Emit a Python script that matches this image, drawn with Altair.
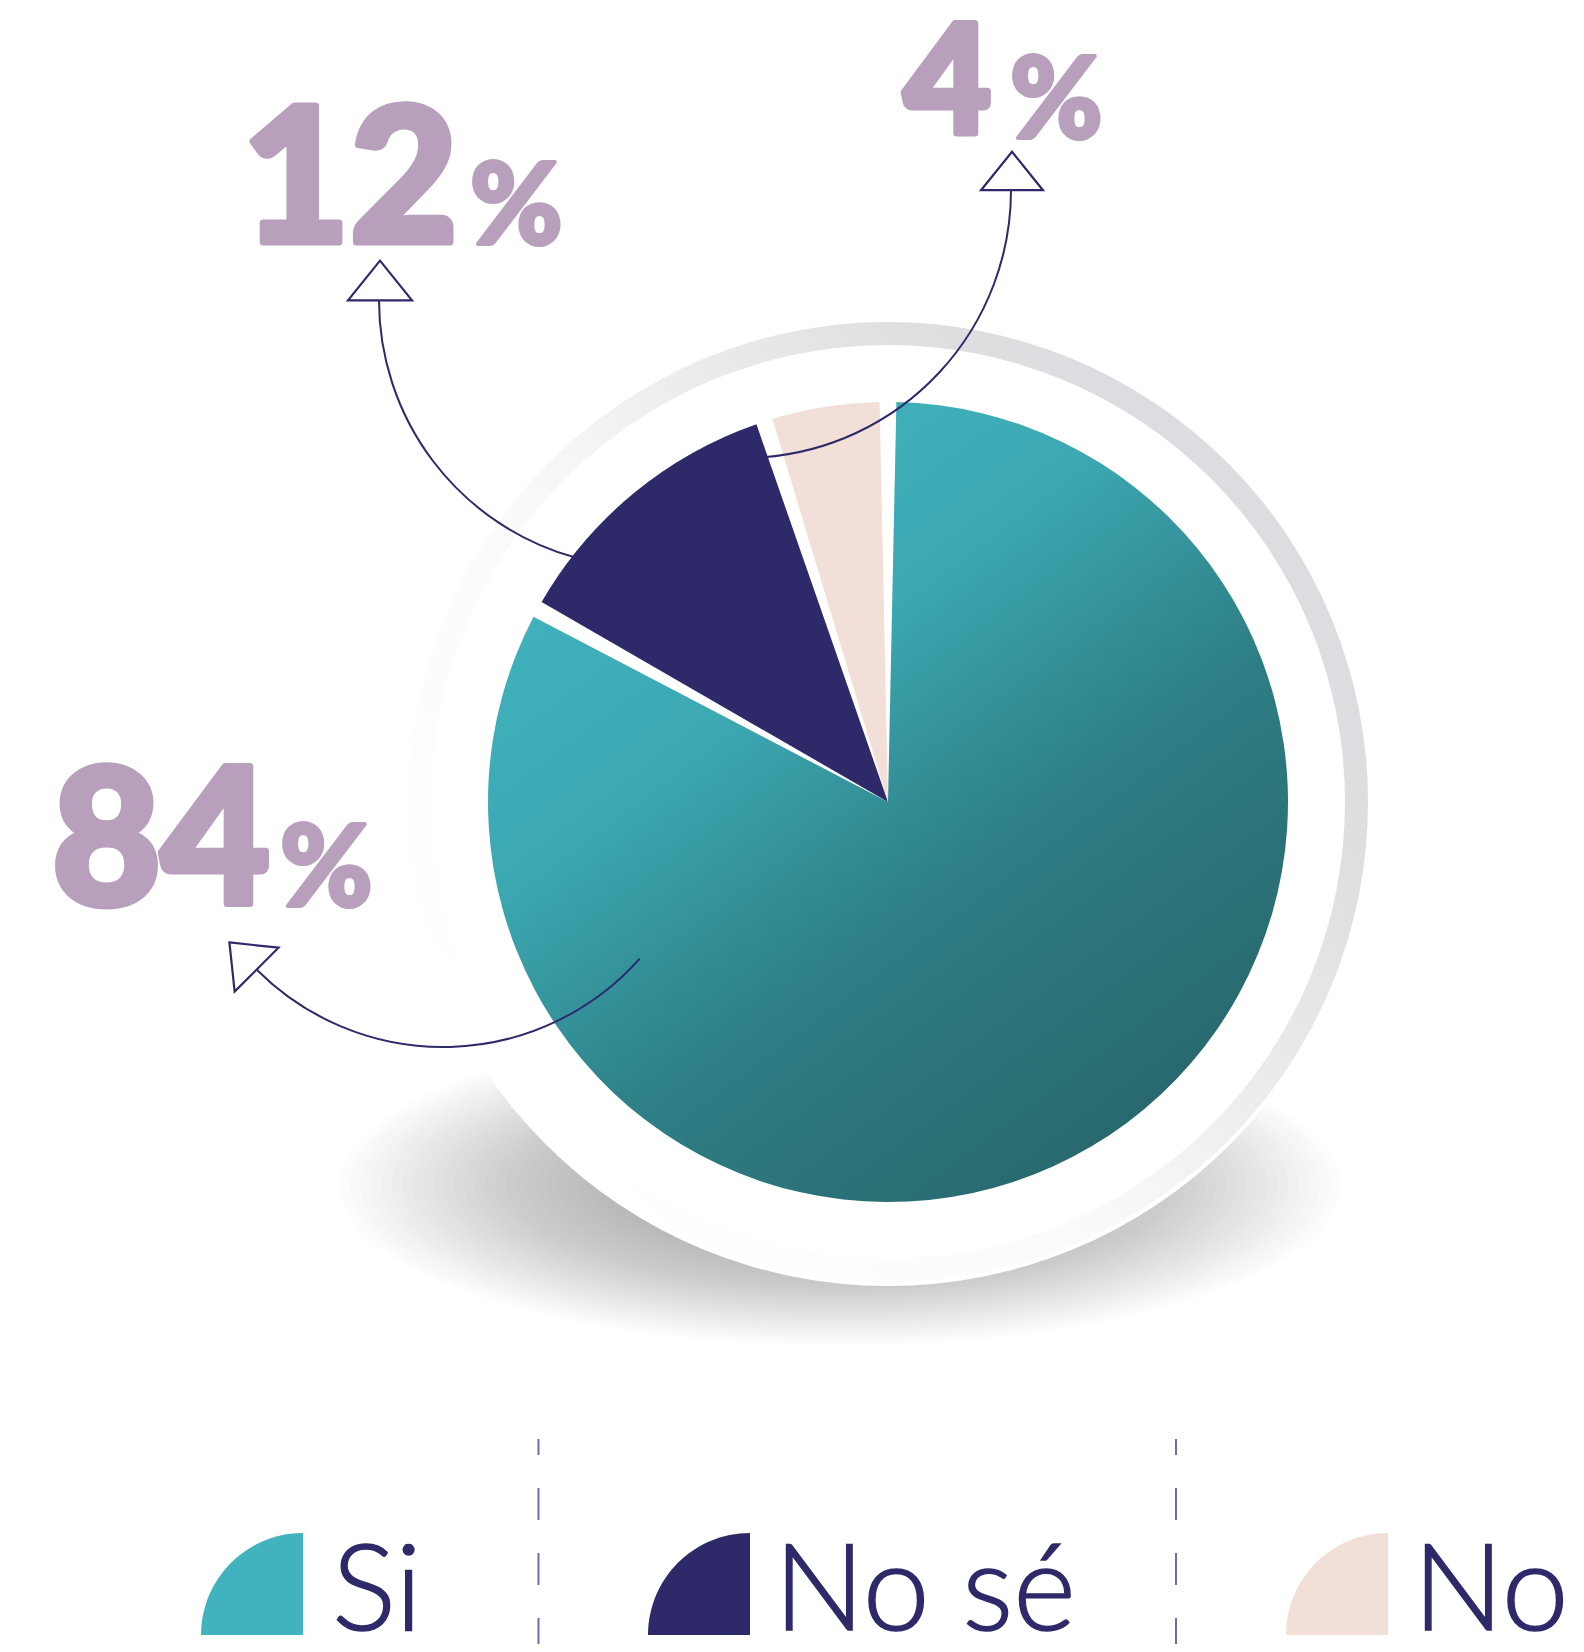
import math
import altair as alt
import pandas as pd

# ---------------- data ----------------
categories = ["Si", "No sé", "No"]
slice_values = [83, 12, 5]          # angular share as drawn in the pie
pct_labels = [84, 12, 4]            # printed percentages
colors = ["#40B3BE", "#2E2A6A", "#F2DFD7"]

NAVY = "#2E2A6A"
LABEL_COLOR = "#B8A0BD"
W, H = 1568, 1636
M = 8


def px(v):
    return v - M


CX, CY = px(888), px(802)
R_PIE = 400

one = pd.DataFrame({"k": [0]})

# ---------------- soft shadow (stack of translucent ellipses) ----------------
shadow_layers = []
N_SH = 30
SH_X, SH_Y = 840, 1185
for i in range(N_SH):
    f = i / (N_SH - 1)
    rx = 500 - f * 300
    ry = 160 - f * 100
    e = ry / rx
    shape = f"M-1,0 A1,{e:.4f} 0 1,0 1,0 A1,{e:.4f} 0 1,0 -1,0 Z"
    shadow_layers.append(
        alt.Chart(one).mark_point(
            shape=shape, filled=True, fill="#6e6e6e", opacity=0.02, strokeWidth=0,
            size=(2 * rx) ** 2,
        ).encode(x=alt.value(px(SH_X)), y=alt.value(px(SH_Y)))
    )

disk = alt.Chart(one).mark_arc(outerRadius=484, theta=0, theta2=2 * math.pi, fill="#ffffff").encode(
    x=alt.value(CX), y=alt.value(CY)
)

ring_grad = {
    "gradient": "linear", "x1": 0.15, "y1": 0.85, "x2": 0.9, "y2": 0.25,
    "stops": [
        {"offset": 0, "color": "#ffffff"},
        {"offset": 0.4, "color": "#fafafa"},
        {"offset": 0.65, "color": "#ebebec"},
        {"offset": 0.85, "color": "#dedfe1"},
        {"offset": 1, "color": "#dcdde0"},
    ],
}
ring = alt.Chart(one).mark_arc(
    innerRadius=457, outerRadius=480, theta=0, theta2=2 * math.pi, fill=ring_grad
).encode(x=alt.value(CX), y=alt.value(CY))

# ---------------- pie ----------------
teal_grad = {
    "gradient": "linear", "x1": 0.2, "y1": 0.1, "x2": 0.8, "y2": 0.9,
    "stops": [
        {"offset": 0, "color": "#40B3BE"},
        {"offset": 0.3, "color": "#3ca8b2"},
        {"offset": 0.62, "color": "#2e7f86"},
        {"offset": 1, "color": "#28696e"},
    ],
}
pie_df = pd.DataFrame({"cat": categories, "value": slice_values, "idx": list(range(len(categories)))})
pie = alt.Chart(pie_df).mark_arc(outerRadius=R_PIE, padAngle=0.042).encode(
    theta=alt.Theta("value:Q", stack=True),
    order=alt.Order("idx:Q"),
    fill=alt.condition(
        "datum.cat === 'Si'",
        alt.value(teal_grad),
        alt.Fill("cat:N", scale=alt.Scale(domain=categories, range=colors), legend=None),
    ),
    x=alt.value(CX), y=alt.value(CY),
)

# ---------------- arrows ----------------
# (centre x, centre y, radius, start deg, end deg)
arrow_arcs = [
    (646, 300, 267, 195.7, 270.0),
    (743, 190, 268, 90.0, 175.7),
    (443, 784, 263, 131.8, 225.0),
]
arc_layers = []
for cx, cy, r, a0, a1 in arrow_arcs:
    arc_layers.append(
        alt.Chart(one).mark_arc(
            innerRadius=r, outerRadius=r + 0.01,
            theta=math.radians(a0), theta2=math.radians(a1),
            fillOpacity=0, stroke=NAVY, strokeWidth=2,
        ).encode(x=alt.value(px(cx)), y=alt.value(px(cy)))
    )

TRI = "M0,-0.62 L1,0.62 L-1,0.62 Z"
heads_df = pd.DataFrame({
    "x": [px(380), px(1012), px(243)],
    "y": [px(280.5), px(171), px(956)],
    "s": [64 ** 2, 62 ** 2, 62 ** 2],
    "a": [0, 0, 315],
})
heads = alt.Chart(heads_df).mark_point(
    shape=TRI, filled=True, fill="#ffffff", stroke=NAVY, strokeWidth=2.2, opacity=1
).encode(
    x=alt.X("x:Q", scale=None), y=alt.Y("y:Q", scale=None),
    size=alt.Size("s:Q", scale=None), angle=alt.Angle("a:Q", scale=None),
)

# ---------------- percentage labels ----------------
num_df = pd.DataFrame({
    "t": [str(v) for v in pct_labels],
    "x": [px(52), px(242), px(904)],
    "y": [px(904), px(242), px(133)],
    "fs": [188, 186, 150],
})
pct_df = pd.DataFrame({
    "t": ["%"] * 3,
    "x": [px(280), px(470), px(1010)],
    "y": [px(906), px(244), px(138)],
    "fs": [112, 112, 112],
})
nums = alt.Chart(num_df).mark_text(
    font="Lato", fontWeight=900, align="left", baseline="alphabetic",
    color=LABEL_COLOR, stroke=LABEL_COLOR, strokeWidth=7, strokeJoin="round",
).encode(
    x=alt.X("x:Q", scale=None), y=alt.Y("y:Q", scale=None),
    text="t:N", size=alt.Size("fs:Q", scale=None),
)
pcts = alt.Chart(pct_df).mark_text(
    font="Lato", fontWeight=900, align="left", baseline="alphabetic",
    color=LABEL_COLOR, stroke=LABEL_COLOR, strokeWidth=4, strokeJoin="round",
).encode(
    x=alt.X("x:Q", scale=None), y=alt.Y("y:Q", scale=None),
    text="t:N", size=alt.Size("fs:Q", scale=None),
)

# ---------------- legend ----------------
QUARTER = "M1,1 L1,-1 A2,2 0 0,0 -1,1 Z"
leg_df = pd.DataFrame({
    "cat": categories,
    "ix": [px(252), px(699), px(1337)],
    "tx": [px(332), px(774), px(1413)],
})
icons = alt.Chart(leg_df).mark_point(shape=QUARTER, filled=True, opacity=1, size=102 ** 2).encode(
    x=alt.X("ix:Q", scale=None), y=alt.value(px(1584)),
    fill=alt.Fill("cat:N", scale=alt.Scale(domain=categories, range=colors), legend=None),
)
leg_text = alt.Chart(leg_df).mark_text(
    font="Lato", fontWeight=300, fontSize=120, align="left", baseline="alphabetic",
    color=NAVY, stroke=NAVY, strokeWidth=1.5,
).encode(x=alt.X("tx:Q", scale=None), y=alt.value(px(1630)), text="cat:N")

sep_df = pd.DataFrame({"x": [px(538.5), px(1176)]})
seps = alt.Chart(sep_df).mark_rule(
    color="#6f6ca8", strokeWidth=2, strokeDash=[32, 33], strokeDashOffset=16
).encode(x=alt.X("x:Q", scale=None), y=alt.value(px(1439)), y2=alt.value(px(1660)))

chart = alt.layer(
    *shadow_layers, disk, ring, pie, *arc_layers, heads, nums, pcts, icons, leg_text, seps
).properties(
    width=W, height=H, padding=0, autosize=alt.AutoSizeParams(type="none")
).configure_view(strokeWidth=0).resolve_scale(fill="independent")

chart.save("out.html", embed_options={"renderer": "svg", "actions": False})
